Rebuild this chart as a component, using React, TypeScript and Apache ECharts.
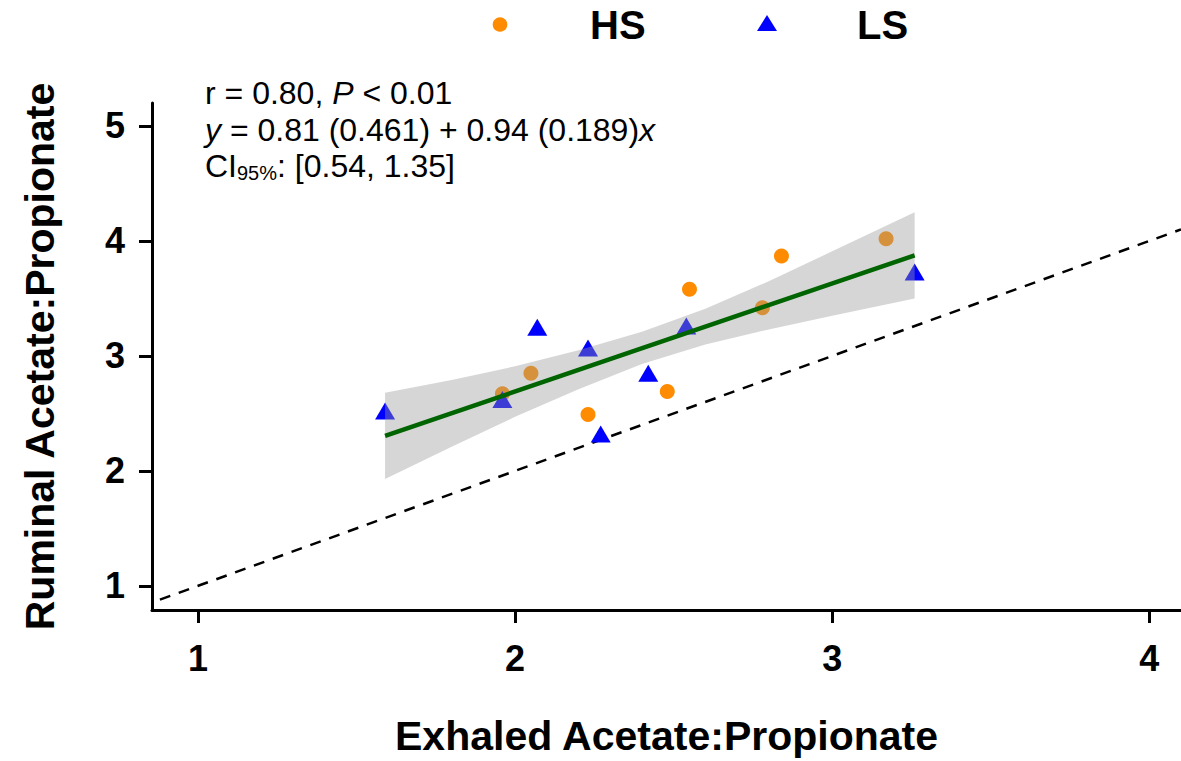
import React, { useEffect, useRef } from "react";
import * as echarts from "echarts";

// Exhaled vs ruminal acetate:propionate, by group
const hsX = [1.96, 2.05, 2.23, 2.48, 2.55, 2.78, 2.84, 3.17];
const hsY = [2.67, 2.85, 2.49, 2.69, 3.58, 3.42, 3.87, 4.02];
const lsX = [1.59, 1.96, 2.07, 2.23, 2.27, 2.42, 2.54, 3.26];
const lsY = [2.52, 2.62, 3.25, 3.07, 2.32, 2.85, 3.26, 3.73];

// Fitted regression y = a + b x over the observed x range
const fitIntercept = 0.81;
const fitSlope = 0.94;
const fitXRange = [1.59, 3.26];

// 95% confidence band of the fit
const bandX = [1.59, 1.8, 2.0, 2.2, 2.4, 2.6, 2.8, 3.0, 3.26];
const bandUpper = [2.68, 2.79, 2.91, 3.05, 3.21, 3.41, 3.65, 3.91, 4.25];
const bandLower = [1.93, 2.21, 2.47, 2.71, 2.93, 3.1, 3.23, 3.35, 3.5];

// Line of identity y = x
const identityRange = [0.88, 4.1];

const xTicks = [1, 2, 3, 4];
const yTicks = [1, 2, 3, 4, 5];

const FONT = '"Liberation Sans", Arial, Helvetica, sans-serif';
const ORANGE = "#FF8C00";
const BLUE = "#0000FF";

export default function App() {
  const ref = useRef<HTMLDivElement>(null);

  useEffect(() => {
    if (!ref.current) return;
    const chart = echarts.init(ref.current, undefined, { renderer: "svg" });

    const hsData = hsX.map((x, i) => [x, hsY[i]]);
    const lsData = lsX.map((x, i) => [x, lsY[i]]);
    const fitData = fitXRange.map((x) => [x, fitIntercept + fitSlope * x]);
    const identityData = identityRange.map((v) => [v, v]);

    const axisCommon = {
      type: "value" as const,
      splitLine: { show: false },
      axisLine: { show: true, onZero: false, lineStyle: { color: "#000", width: 3 } },
      nameLocation: "middle" as const,
      nameTextStyle: { fontFamily: FONT, fontSize: 41, fontWeight: "bold" as const, color: "#000" },
    };

    const tickLabel = {
      fontFamily: FONT,
      fontSize: 36,
      fontWeight: "bold" as const,
      color: "#000",
    };

    const normal = { fontFamily: FONT, fontSize: 32, color: "#000" };
    const italic = { fontFamily: FONT, fontSize: 32, fontStyle: "italic" as const, color: "#000" };

    chart.setOption({
      animation: false,
      backgroundColor: "#fff",
      grid: { left: 152, right: 0, top: 103, bottom: 144, containLabel: false },
      xAxis: {
        ...axisCommon,
        min: 0.855,
        max: 4.1,
        name: "Exhaled Acetate:Propionate",
        nameGap: 105,
        axisTick: { show: true, customValues: xTicks, length: 13, lineStyle: { color: "#000", width: 3 } },
        axisLabel: { customValues: xTicks, margin: 30, ...tickLabel },
      },
      yAxis: {
        ...axisCommon,
        min: 0.79,
        max: 5.2,
        name: "Ruminal Acetate:Propionate",
        nameGap: 92,
        axisTick: { show: true, customValues: yTicks, length: 13, lineStyle: { color: "#000", width: 3 } },
        axisLabel: { customValues: yTicks, margin: 27, ...tickLabel },
      },
      series: [
        {
          name: "identity",
          type: "line",
          data: identityData,
          showSymbol: false,
          silent: true,
          z: 1,
          lineStyle: { color: "#000", width: 2.5, type: [11, 9] },
        },
        {
          name: "HS",
          type: "scatter",
          data: hsData,
          symbol: "circle",
          symbolSize: 15,
          z: 2,
          itemStyle: { color: ORANGE, opacity: 1 },
        },
        {
          name: "LS",
          type: "scatter",
          data: lsData,
          symbol: "triangle",
          symbolSize: [20, 17],
          z: 2,
          itemStyle: { color: BLUE, opacity: 1 },
        },
        {
          name: "band",
          type: "custom",
          data: [[bandX[0], bandLower[0]]],
          z: 3,
          silent: true,
          renderItem: (_params: any, api: any) => {
            const pts: number[][] = [];
            bandX.forEach((x, i) => pts.push(api.coord([x, bandUpper[i]])));
            for (let i = bandX.length - 1; i >= 0; i--) pts.push(api.coord([bandX[i], bandLower[i]]));
            return {
              type: "polygon",
              shape: { points: pts },
              style: { fill: "rgba(153,153,153,0.4)" },
            };
          },
        },
        {
          name: "fit",
          type: "line",
          data: fitData,
          showSymbol: false,
          silent: true,
          z: 4,
          lineStyle: { color: "#006400", width: 4.5 },
        },
      ],
      graphic: [
        // legend
        { type: "circle", shape: { cx: 500, cy: 24.5, r: 7.3 }, style: { fill: ORANGE } },
        {
          type: "text",
          x: 590,
          y: 25,
          style: { text: "HS", fontFamily: FONT, fontSize: 40, fontWeight: "bold", fill: "#000", verticalAlign: "middle" },
        },
        {
          type: "polygon",
          shape: { points: [[767, 15], [757, 31], [777, 31]] },
          style: { fill: BLUE },
        },
        {
          type: "text",
          x: 857,
          y: 25,
          style: { text: "LS", fontFamily: FONT, fontSize: 40, fontWeight: "bold", fill: "#000", verticalAlign: "middle" },
        },
        // regression statistics
        {
          type: "text",
          x: 205,
          y: 93,
          z: 10,
          style: {
            text: "{n|r = 0.80, }{i|P}{n| < 0.01}",
            rich: { n: normal, i: italic },
            verticalAlign: "middle",
          },
        },
        {
          type: "text",
          x: 205,
          y: 130,
          z: 10,
          style: {
            text: "{i|y}{n| = 0.81 (0.461) + 0.94 (0.189)}{i|x}",
            rich: { n: normal, i: italic },
            verticalAlign: "middle",
          },
        },
        {
          type: "text",
          x: 205,
          y: 166,
          z: 10,
          style: {
            text: "{n|CI}{s|95%}{n|: [0.54, 1.35]}",
            rich: {
              n: { ...normal, lineHeight: 32, verticalAlign: "middle" },
              s: { fontFamily: FONT, fontSize: 20, color: "#000", lineHeight: 34, verticalAlign: "bottom" },
            },
            verticalAlign: "middle",
          },
        },
      ],
    });

    return () => chart.dispose();
  }, []);

  return (
    <div
      ref={ref}
      style={{ position: "fixed", left: 0, top: 0, width: 1181, height: 761, background: "#fff" }}
    />
  );
}
